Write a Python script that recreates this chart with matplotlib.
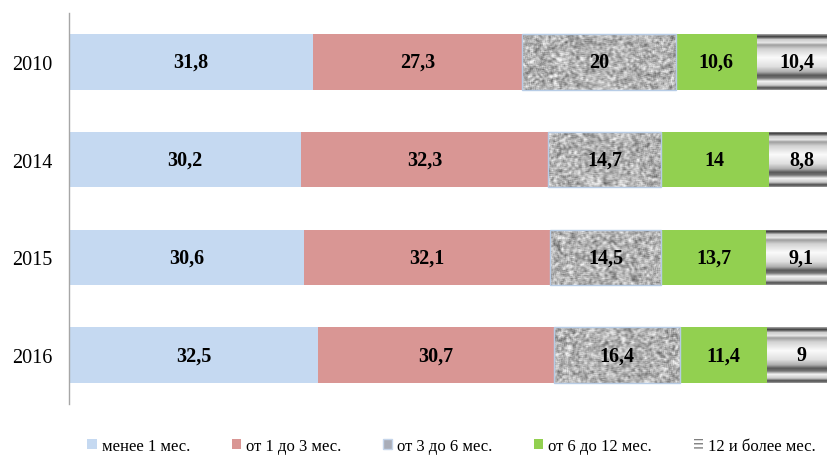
import numpy as np
import matplotlib

matplotlib.use("Agg")
import matplotlib.pyplot as plt
from matplotlib.patches import Patch

plt.rcParams["font.family"] = ["Liberation Serif", "DejaVu Serif"]

years = ["2010", "2014", "2015", "2016"]
series_names = ["менее 1 мес.", "от 1 до 3 мес.", "от 3 до 6 мес.",
                "от 6 до 12 мес.", "12 и более мес."]
less_1 = [31.8, 30.2, 30.6, 32.5]
from_1_to_3 = [27.3, 32.3, 32.1, 30.7]
from_3_to_6 = [20, 14.7, 14.5, 16.4]
from_6_to_12 = [10.6, 14, 13.7, 11.4]
over_12 = [10.4, 8.8, 9.1, 9]

series = [less_1, from_1_to_3, from_3_to_6, from_6_to_12, over_12]
colors = ["#C5D9F1", "#D99694", "#A6A6A6", "#92D050", "#BFBFBF"]

BAR_H = 0.57
PX_PER_UNIT = 7.67


def noise_texture(h_px, w_px, seed):
    # mottled gray texture for the 3-6 month segment (style only)
    rng = np.random.default_rng(seed)
    img = rng.random((h_px + 4, w_px + 4))
    k = np.ones(3) / 3
    img = np.apply_along_axis(lambda r: np.convolve(r, k, mode="same"), 1, img)
    img = np.apply_along_axis(lambda c: np.convolve(c, k, mode="same"), 0, img)
    img = img[2:-2, 2:-2]
    img = (img - img.mean()) / img.std()
    return np.clip(0.70 + 0.09 * img, 0.35, 0.95)


def stripe_texture(h_px):
    # metallic horizontal bands for the 12+ month segment (style only)
    t = np.linspace(0, 1, h_px)
    kt = [0.0, 0.04, 0.09, 0.15, 0.19, 0.26, 0.42, 0.58, 0.68, 0.74, 0.79, 0.85, 0.92, 0.97, 1.0]
    kv = [0.6, 0.25, 0.8, 0.9, 0.62, 0.82, 0.98, 0.88, 0.68, 0.35, 0.45, 0.95, 0.8, 0.3, 0.55]
    return np.interp(t, kt, kv)[:, None]


fig = plt.figure(figsize=(8.27, 4.6), dpi=100)
ax = fig.add_axes([69 / 827, 55 / 460, 767 / 827, 391 / 460])

ypos = np.arange(len(years))
left = np.zeros(len(years))
for i, (vals, col) in enumerate(zip(series, colors)):
    bars = ax.barh(ypos, vals, left=left, height=BAR_H, color=col, zorder=2)
    for j, (b, v) in enumerate(zip(bars, vals)):
        x0, x1 = left[j], left[j] + v
        ext = (x0, x1, ypos[j] + BAR_H / 2, ypos[j] - BAR_H / 2)
        if i == 2:
            tex = noise_texture(56, int(v * PX_PER_UNIT), seed=j)
            im = ax.imshow(tex, cmap="gray", vmin=0, vmax=1, extent=ext,
                           aspect="auto", interpolation="bilinear", zorder=2.5)
            im.set_clip_path(b)
            ax.barh(ypos[j], v, left=x0, height=BAR_H, facecolor="none",
                    edgecolor="#B7CCE6", linewidth=1.0, zorder=2.6)
        elif i == 4:
            im = ax.imshow(stripe_texture(56), cmap="gray", vmin=0, vmax=1,
                           extent=ext, aspect="auto", interpolation="bilinear",
                           zorder=2.5)
            im.set_clip_path(b)
        label = f"{v:g}".replace(".", ",")
        ax.text((x0 + x1) / 2, ypos[j], label, ha="center", va="center",
                fontsize=14.5, fontweight="bold", color="black", zorder=4)
    left = left + np.array(vals)

ax.set_xlim(0, 100)
ax.set_ylim(len(years) - 0.5, -0.5)
ax.set_yticks(ypos)
ax.set_yticklabels(years, fontsize=14.5)
ax.tick_params(axis="y", length=0, pad=12)
ax.set_xticks([])
for s in ["top", "right", "bottom"]:
    ax.spines[s].set_visible(False)
ax.spines["left"].set_color("#A6A6A6")
ax.spines["left"].set_linewidth(1.0)

handles = [
    Patch(facecolor=colors[0], edgecolor="none"),
    Patch(facecolor=colors[1], edgecolor="none"),
    Patch(facecolor="#A9ADB8", edgecolor="#C5D5EA"),
    Patch(facecolor=colors[3], edgecolor="none"),
    Patch(facecolor="white", edgecolor="#7F7F7F", linewidth=0, hatch="----"),
]
fig.legend(handles, series_names, loc="center", bbox_to_anchor=(0.546, 0.028),
           ncol=5, frameon=False, fontsize=12, handlelength=0.55,
           handleheight=0.55, handletextpad=0.3, columnspacing=2.5)

fig.savefig("out.png", dpi=100)
